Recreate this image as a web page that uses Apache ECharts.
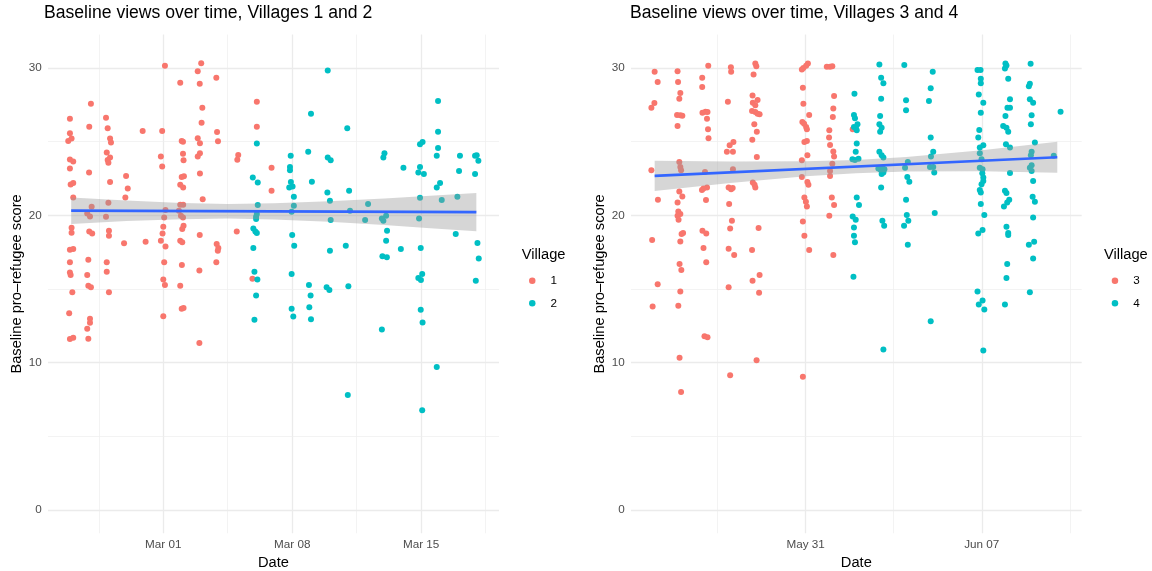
<!DOCTYPE html>
<html><head><meta charset="utf-8">
<script src="https://cdn.jsdelivr.net/npm/echarts@6/dist/echarts.min.js"></script>
<style>html,body{margin:0;padding:0;background:#fff}#c{width:1152px;height:571px}</style>
</head><body><div id="c"></div>
<script>
// x = days relative to Mar 01 (left panel) / May 31 (right panel), jittered as in the picture
const village1 = [
[-5.07,26.56],[-5.07,25.57],[-5.16,25.05],[-4.98,25.21],[-5.07,23.79],[-4.89,23.65],[-5.07,23.18],[-5.03,22.09],[-4.89,22.19],[-4.89,21.21],[-4.98,19.16],[-4.98,18.82],[-5.07,17.67],[-4.89,17.72],[-5.07,16.81],[-5.07,16.13],[-5.03,15.96],[-4.94,14.78],[-5.11,13.36],[-5.07,11.60],[-4.89,11.69],
[-3.93,27.58],[-4.02,26.02],[-4.03,22.91],[-3.89,20.58],[-4.13,20.13],[-3.98,19.93],[-4.02,18.91],[-3.86,18.77],[-4.07,16.99],[-4.13,15.96],[-4.07,15.23],[-3.93,15.12],[-3.98,12.98],[-3.98,12.71],[-4.13,12.30],[-4.07,11.63],
[-3.11,26.63],[-3.02,25.91],[-2.89,25.21],[-2.84,24.94],[-3.07,24.26],[-2.89,23.92],[-3.02,23.76],[-2.98,23.58],[-2.89,22.27],[-2.98,20.85],[-3.11,19.91],[-2.95,18.96],[-2.95,18.62],[-3.07,16.81],[-3.07,16.18],[-2.95,14.78],
[-2.02,22.68],[-1.93,21.82],[-2.06,21.21],[-2.13,18.10],[-1.12,25.73],[-0.96,18.21],
[0.09,30.15],[-0.06,25.73],[-0.13,23.99],[-0.06,23.31],[0.12,20.36],[0.05,19.86],[0.0,19.23],[-0.04,18.77],[-0.13,18.28],[0.12,17.89],[0.05,16.81],[0.0,15.64],[0.09,15.28],[0.0,13.16],
[0.92,29.0],[1.0,25.05],[1.07,25.0],[1.07,24.19],[1.10,23.74],[1.0,22.61],[1.12,22.66],[0.92,22.07],[1.08,21.89],[0.92,20.72],[1.08,20.72],[0.85,20.31],[0.96,19.97],[1.07,19.86],[1.10,19.3],[1.03,19.07],[0.92,18.28],[1.03,18.17],[1.01,16.63],[0.92,15.23],[1.0,13.66],[1.10,13.72],
[2.06,30.33],[1.87,29.79],[1.98,28.93],[2.12,27.31],[2.08,26.29],[1.87,25.23],[1.99,24.9],[1.99,24.22],[1.87,23.99],[1.99,22.84],[2.14,21.1],[1.98,18.67],[1.96,16.25],[1.96,11.33],
[2.88,29.34],[2.92,25.66],[2.97,25.03],[2.90,18.06],[2.99,17.79],[2.96,17.6],[2.88,16.81],
[4.07,24.1],[4.02,23.77],[3.99,18.91],[4.84,15.69],[5.88,23.24],[5.88,21.67],[5.08,27.71],[5.08,26.02]
];
const village2 = [
[5.08,24.87],[4.86,22.57],[5.13,22.23],[5.13,20.70],[5.08,20.09],[5.04,19.91],[5.04,19.75],[4.89,19.11],[5.00,18.91],[5.08,18.8],[4.89,17.79],[4.95,16.18],[5.11,15.64],[5.04,14.56],[4.95,12.91],
[6.92,24.04],[6.88,23.29],[6.88,23.07],[6.93,22.27],[6.84,21.89],[7.02,21.96],[7.09,21.26],[7.09,20.65],[6.97,20.24],[7.0,18.67],[7.11,17.94],[6.97,16.02],[6.97,13.66],[7.06,13.13],
[7.87,24.31],[8.02,26.9],[8.07,22.29],[7.91,15.28],[8.0,14.56],[7.93,13.77],[8.02,12.95],
[8.93,29.83],[8.93,23.92],[9.09,23.74],[8.91,21.55],[9.05,20.99],[9.09,19.68],[9.05,17.6],[8.87,15.12],[9.02,14.94],
[9.99,25.91],[10.09,21.67],[10.14,20.31],[9.91,17.94],[10.05,15.19],[10.02,7.81],
[11.12,20.77],[10.96,19.68],
[12.01,24.22],[11.95,23.92],[11.87,19.79],[11.95,19.63],[12.10,19.97],[12.15,18.96],[12.10,18.28],[11.90,17.22],[12.14,17.15],[11.87,12.25],
[13.04,23.24],[12.90,17.72],
[13.94,24.83],[14.08,24.98],[13.94,23.29],[13.85,22.91],[14.15,22.80],[13.94,21.19],[13.89,19.79],[13.98,17.79],[14.06,16.02],[13.85,15.75],[13.99,15.62],[13.98,13.59],[14.08,12.73],[14.06,6.77],
[14.92,27.76],[14.92,25.68],[14.92,24.58],[14.85,24.04],[14.85,21.89],[15.03,22.19],[15.12,21.04],[15.88,18.73],[14.85,9.70],
[16.11,24.04],[16.06,23.02],[15.97,21.26],
[16.93,24.04],[17.02,24.08],[17.11,23.70],[16.93,22.80],[17.06,18.12],[17.13,17.08],[16.97,15.57]
];
const village3 = [
[-6.0,29.74],[-5.88,29.05],[-6.01,27.62],[-6.13,27.31],[-6.13,23.07],[-5.87,21.06],[-6.10,18.33],[-5.88,15.32],[-6.08,13.81],
[-5.09,29.79],[-5.07,29.05],[-4.98,28.3],[-5.02,27.92],[-5.11,26.81],[-4.98,26.79],[-4.90,26.77],[-5.09,26.07],[-5.02,23.63],[-4.98,23.29],[-4.95,23.07],[-5.02,21.62],[-4.90,21.28],[-5.09,20.87],[-5.06,20.27],[-4.98,20.09],[-5.09,19.97],[-5.05,19.7],[-4.87,18.8],[-4.93,18.73],[-4.98,18.23],[-5.01,16.70],[-4.94,16.29],[-4.98,14.83],[-5.06,13.86],[-5.01,10.34],[-4.95,8.01],
[-3.87,30.15],[-4.11,29.34],[-4.11,28.71],[-3.98,27.03],[-3.90,27.01],[-4.10,26.97],[-3.92,26.56],[-3.88,25.84],[-3.86,25.23],[-4.0,22.95],[-4.12,21.73],[-3.92,21.89],[-4.06,21.82],[-3.96,21.04],[-4.10,18.96],[-3.95,18.77],[-4.06,17.79],[-3.95,16.81],[-4.02,11.8],[-3.90,11.73],
[-2.97,30.06],[-2.96,29.74],[-3.09,27.71],[-2.87,24.98],[-3.02,24.76],[-3.13,24.31],[-2.89,24.31],[-2.89,23.13],[-3.06,21.89],[-2.96,21.78],[-2.90,21.85],[-3.04,20.77],[-2.93,19.63],[-3.0,19.11],[-3.06,17.74],[-2.84,17.31],[-3.06,15.12],[-3.0,9.14],
[-2.0,30.31],[-1.96,30.13],[-2.07,29.57],[-2.11,28.14],[-1.91,27.83],[-2.10,27.65],[-2.0,27.47],[-2.13,27.08],[-2.0,27.01],[-1.83,26.86],[-1.91,26.9],[-2.04,26.18],[-1.94,25.68],[-2.12,25.14],[-1.94,23.97],[-2.10,22.23],[-2.03,22.07],[-2.0,21.89],[-1.87,19.14],[-2.13,17.65],[-2.11,15.57],[-1.83,15.96],[-1.85,14.74],[-1.95,10.16],
[0.09,30.31],[0.02,30.15],[-0.09,30.01],[-0.15,29.9],[-0.11,28.66],[-0.09,27.58],[0.14,26.81],[-0.13,26.34],[-0.06,26.22],[0.02,26.0],[0.05,25.84],[-0.05,24.98],[0.05,25.05],[0.07,24.08],[-0.15,23.74],[-0.15,22.61],[0.07,22.27],[0.11,22.07],[-0.05,21.21],[0.01,20.92],[0.05,20.61],[-0.11,19.59],[-0.05,18.62],[0.14,17.65],[-0.11,9.05],
[0.84,30.09],[0.97,30.09],[1.06,30.13],[1.13,28.1],[1.10,27.26],[1.08,26.68],[0.94,25.77],[0.93,25.28],[0.97,24.78],[1.10,24.33],[1.13,23.99],[1.06,23.51],[0.97,23.02],[0.97,22.68],[1.04,21.21],[1.13,20.70],[0.94,19.97],[1.10,17.31],
[1.87,25.84]
];
const village4 = [
[1.94,28.26],[1.92,26.81],[1.96,26.59],[2.06,26.18],[1.92,26.0],[2.0,25.91],[2.03,25.77],[2.03,24.87],[1.99,24.31],[1.86,23.81],[1.96,23.76],[2.10,23.85],[2.03,21.21],[2.12,20.70],[1.87,19.93],[1.99,19.7],[1.92,19.18],[1.92,18.62],[1.96,18.17],[1.90,15.84],
[2.93,30.24],[3.0,29.34],[3.09,28.96],[3.0,27.92],[2.96,26.74],[2.93,26.18],[3.02,25.95],[2.96,25.68],[2.93,24.31],[3.02,24.08],[3.09,23.92],[2.89,23.18],[2.98,23.09],[3.05,23.24],[3.13,23.13],[3.02,22.80],[3.09,22.91],[3.0,21.89],[3.05,19.63],[3.12,19.30],[3.09,10.9],
[3.92,30.2],[3.99,27.81],[3.99,27.13],[4.06,23.63],[3.95,23.24],[4.04,22.61],[4.12,22.29],[3.99,21.06],[4.02,20.02],[4.08,19.63],[3.91,19.30],[4.06,18.01],
[5.05,29.74],[4.97,28.62],[4.90,27.76],[4.97,25.28],[5.07,24.31],[4.98,23.99],[4.94,23.29],[5.07,23.29],[5.11,22.91],[5.13,20.16],[4.97,12.82],
[6.83,29.86],[6.95,29.86],[6.96,29.27],[6.96,28.96],[6.88,28.21],[7.06,27.65],[6.96,26.97],[6.90,25.8],[6.86,25.28],[6.92,24.6],[7.06,24.76],[6.92,24.22],[6.99,23.81],[6.92,23.24],[7.03,23.13],[7.02,22.86],[7.06,22.57],[7.06,22.34],[6.99,22.12],[6.92,21.73],[6.96,21.55],[6.96,20.77],[7.10,20.02],[6.86,18.77],[7.03,19.0],[6.83,14.83],[7.03,14.22],[6.88,13.95],[7.10,13.61],[7.06,10.83],
[7.94,30.31],[7.98,30.17],[7.92,29.97],[8.05,29.27],[8.12,27.88],[8.02,27.31],[8.12,27.31],[7.94,26.74],[7.85,26.07],[7.98,25.95],[8.05,25.68],[7.96,24.83],[8.12,24.6],[8.12,22.88],[7.92,21.67],[7.98,21.51],[8.09,21.06],[8.01,20.87],[7.88,20.61],[7.98,19.23],[8.05,18.8],[8.05,18.67],[8.01,16.70],[7.98,15.75],[7.92,13.95],
[8.94,30.29],[8.91,28.93],[8.87,28.77],[8.91,27.88],[9.04,27.65],[8.98,26.79],[8.95,26.18],[9.11,24.94],[8.98,24.31],[8.95,24.08],[8.98,23.4],[8.91,23.24],[8.98,23.02],[9.04,22.34],[9.02,21.26],[9.11,20.92],[9.04,19.86],[8.87,18.01],[9.08,18.21],[9.04,17.08],[8.91,14.78],
[10.13,27.03],[9.86,24.04]
];

// linear fit lines and confidence bands
const fit12X = [-5, 17];
const fit12Y = [20.32, 20.22];
const band12X = [-5, -2, 1, 3.5, 6, 9, 12, 14.5, 17];
const band12Lo = [19.42, 19.61, 19.74, 19.78, 19.72, 19.56, 19.34, 19.13, 18.93];
const band12Hi = [21.22, 21.01, 20.84, 20.78, 20.82, 20.96, 21.14, 21.33, 21.51];
const fit34X = [-6, 10];
const fit34Y = [22.68, 23.95];
const band34X = [-6, -3, 0, 2, 4, 7, 10];
const band34Lo = [21.66, 22.19, 22.65, 22.86, 22.97, 23.00, 22.90];
const band34Hi = [23.70, 23.65, 23.67, 23.76, 23.97, 24.42, 25.00];

// ticks
const x12TickValues = [0, 7, 14];
const x12TickLabels = ['Mar 01', 'Mar 08', 'Mar 15'];
const x12Minor = [-3.5, 3.5, 10.5, 17.5];
const x34TickValues = [0, 7];
const x34TickLabels = ['May 31', 'Jun 07'];
const x34Minor = [-3.5, 3.5, 10.5];
const yTickValues = [0, 10, 20, 30];
const yMinor = [5, 15, 25];

const FONT = '"Liberation Sans", Arial, Helvetica, sans-serif';
const RED = '#F8766D', TEAL = '#00BFC4';

function gridMarkLine(xMaj, xMin) {
  const maj = {color: '#EBEBEB', width: 1.3, type: 'solid'};
  const mnr = {color: '#EEEEEE', width: 0.7, type: 'solid'};
  const data = [];
  xMaj.forEach(v => data.push({xAxis: v, lineStyle: maj}));
  xMin.forEach(v => data.push({xAxis: v, lineStyle: mnr}));
  yTickValues.forEach(v => data.push({yAxis: v, lineStyle: maj}));
  yMinor.forEach(v => data.push({yAxis: v, lineStyle: mnr}));
  return {silent: true, symbol: ['none', 'none'], z: 1, animation: false,
    label: {show: false}, emphasis: {disabled: true}, data: data};
}
function bandSeries(idx, xs, lo, hi) {
  return {
    type: 'custom', xAxisIndex: idx, yAxisIndex: idx, z: 3, silent: true,
    data: [[xs[0], lo[0]]],
    renderItem: function (params, api) {
      const pts = [];
      for (let i = 0; i < xs.length; i++) pts.push(api.coord([xs[i], hi[i]]));
      for (let i = xs.length - 1; i >= 0; i--) pts.push(api.coord([xs[i], lo[i]]));
      return {type: 'polygon', shape: {points: pts}, style: {fill: 'rgba(153,153,153,0.4)'}};
    }
  };
}
function lineSeries(idx, xs, ys) {
  return {type: 'line', xAxisIndex: idx, yAxisIndex: idx, z: 4, silent: true, showSymbol: false,
    data: xs.map((x, i) => [x, ys[i]]), lineStyle: {color: '#3366FF', width: 2.6}};
}
function scatter(name, idx, data, color, withGrid, xMaj, xMin) {
  const s = {name: name, type: 'scatter', xAxisIndex: idx, yAxisIndex: idx, z: 2,
    symbolSize: 6, itemStyle: {color: color, opacity: 1}, data: data};
  if (withGrid) s.markLine = gridMarkLine(xMaj, xMin);
  return s;
}
function xAxis(idx, min, max, vals, labels) {
  return {gridIndex: idx, type: 'value', min: min, max: max,
    axisLine: {show: false}, axisTick: {show: false}, splitLine: {show: false},
    axisLabel: {customValues: vals, formatter: v => labels[vals.indexOf(v)],
      color: '#4D4D4D', fontSize: 11.7, fontFamily: FONT, margin: 5},
    name: 'Date', nameLocation: 'middle', nameGap: 17,
    nameTextStyle: {color: '#000', fontSize: 14.67, fontFamily: FONT}};
}
function yAxis(idx) {
  return {gridIndex: idx, type: 'value', min: -1.58, max: 32.27,
    axisLine: {show: false}, axisTick: {show: false}, splitLine: {show: false},
    axisLabel: {customValues: yTickValues, color: '#4D4D4D', fontSize: 11.7, fontFamily: FONT, margin: 6.3},
    name: 'Baseline pro–refugee score', nameLocation: 'middle', nameGap: 21,
    nameTextStyle: {color: '#000', fontSize: 14.67, fontFamily: FONT}};
}
function legend(names, left) {
  return {data: names, orient: 'vertical', left: left, top: 272.7, padding: 0,
    itemWidth: 6.5, itemHeight: 6.5, itemGap: 6.6, icon: 'circle', selectedMode: false,
    textStyle: {fontSize: 11.7, color: '#000', fontFamily: FONT, lineHeight: 16, padding: [0, 0, 0, 10]}};
}
const tStyle = {fontSize: 17.6, fontWeight: 'normal', color: '#000', fontFamily: FONT};
const lStyle = {fontSize: 14.67, fontWeight: 'normal', color: '#000', fontFamily: FONT};

const chart = echarts.init(document.getElementById('c'));
chart.setOption({
  animation: false,
  backgroundColor: '#fff',
  title: [
    {text: 'Baseline views over time, Villages 1 and 2', left: 44, top: 4, padding: 0, textStyle: tStyle},
    {text: 'Baseline views over time, Villages 3 and 4', left: 630, top: 4, padding: 0, textStyle: tStyle},
    {text: 'Village', left: 521.7, top: 247.5, padding: 0, textStyle: lStyle},
    {text: 'Village', left: 1104, top: 247.5, padding: 0, textStyle: lStyle}
  ],
  legend: [legend(['1', '2'], 529), legend(['3', '4'], 1111.7)],
  grid: [
    {left: 48, top: 34.6, width: 451, height: 498.7, containLabel: false, outerBoundsMode: 'none'},
    {left: 631, top: 34.6, width: 450.7, height: 498.7, containLabel: false, outerBoundsMode: 'none'}
  ],
  xAxis: [xAxis(0, -6.26, 18.23, x12TickValues, x12TickLabels), xAxis(1, -6.94, 10.97, x34TickValues, x34TickLabels)],
  yAxis: [yAxis(0), yAxis(1)],
  series: [
    scatter('1', 0, village1, RED, true, x12TickValues, x12Minor),
    scatter('2', 0, village2, TEAL, false),
    bandSeries(0, band12X, band12Lo, band12Hi),
    lineSeries(0, fit12X, fit12Y),
    scatter('3', 1, village3, RED, true, x34TickValues, x34Minor),
    scatter('4', 1, village4, TEAL, false),
    bandSeries(1, band34X, band34Lo, band34Hi),
    lineSeries(1, fit34X, fit34Y)
  ]
});
</script></body></html>
